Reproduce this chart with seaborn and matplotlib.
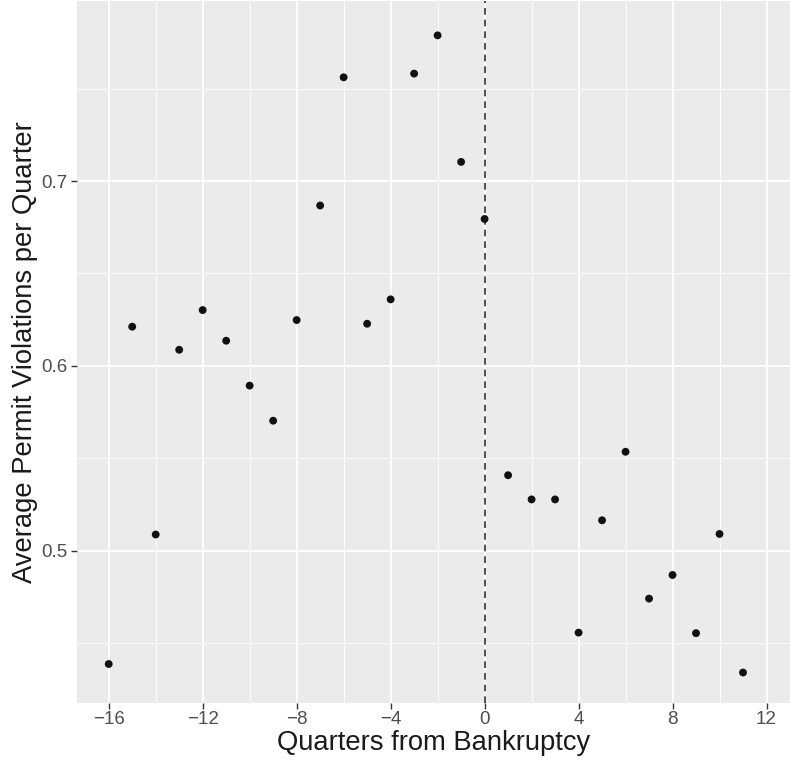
import numpy as np
import pandas as pd
import matplotlib
matplotlib.use("Agg")
import matplotlib.pyplot as plt
from matplotlib.ticker import MultipleLocator
import seaborn as sns

quarters = [-16, -15, -14, -13, -12, -11, -10, -9, -8, -7, -6, -5, -4, -3, -2, -1, 0,
            1, 2, 3, 4, 5, 6, 7, 8, 9, 10, 11]
violations = [0.4386, 0.6212, 0.5087, 0.6087, 0.6302, 0.6136, 0.5893, 0.5703, 0.6248,
              0.6868, 0.7562, 0.6228, 0.6360, 0.7582, 0.7789, 0.7104, 0.6795,
              0.5408, 0.5277, 0.5277, 0.4556, 0.5164, 0.5535, 0.4740, 0.4868,
              0.4553, 0.5090, 0.4340]
x_ticks = [-16, -12, -8, -4, 0, 4, 8, 12]
y_ticks = [0.5, 0.6, 0.7]

df = pd.DataFrame({"quarter": quarters, "viol": violations})

sns.set_theme(style="darkgrid")
plt.rcParams["font.family"] = ["Liberation Sans", "DejaVu Sans"]

fig = plt.figure(figsize=(7.9, 7.65), dpi=100)
ax = fig.add_axes([77 / 790, 62 / 765, 1 - 77 / 790, 1 - 63 / 765])
ax.set_facecolor("#EBEBEB")

ax.axvline(0, color="#333333", linestyle=(0, (4, 3)), linewidth=1.2, zorder=2)
sns.scatterplot(data=df, x="quarter", y="viol", ax=ax, color="#111111",
                s=32, edgecolor="none", zorder=3)

ax.set_xlim(-17.35, 13.0)
ax.set_ylim(0.4175, 0.7975)
ax.set_xticks(x_ticks)
ax.set_xticklabels(["\u2212" + str(-t) if t < 0 else str(t) for t in x_ticks])
ax.set_yticks(y_ticks)
ax.set_yticklabels([f"{t:.1f}" for t in y_ticks])
ax.xaxis.set_minor_locator(MultipleLocator(2))
ax.yaxis.set_minor_locator(MultipleLocator(0.05))

ax.grid(which="major", color="white", linewidth=1.3)
ax.grid(which="minor", color="white", linewidth=0.6)
for s in ax.spines.values():
    s.set_visible(False)
ax.tick_params(which="major", length=4, width=1, color="#333333", direction="out",
               labelsize=13.5, labelcolor="#4D4D4D", pad=2, bottom=True, left=True)
ax.tick_params(axis="y", pad=3)
ax.tick_params(which="minor", length=0)

ax.set_xlabel("Quarters from Bankruptcy", fontsize=19.7, color="#1A1A1A", labelpad=1)
ax.set_ylabel("Average Permit Violations per Quarter", fontsize=19.7, color="#1A1A1A", labelpad=2)

fig.savefig("out.png", dpi=100)
